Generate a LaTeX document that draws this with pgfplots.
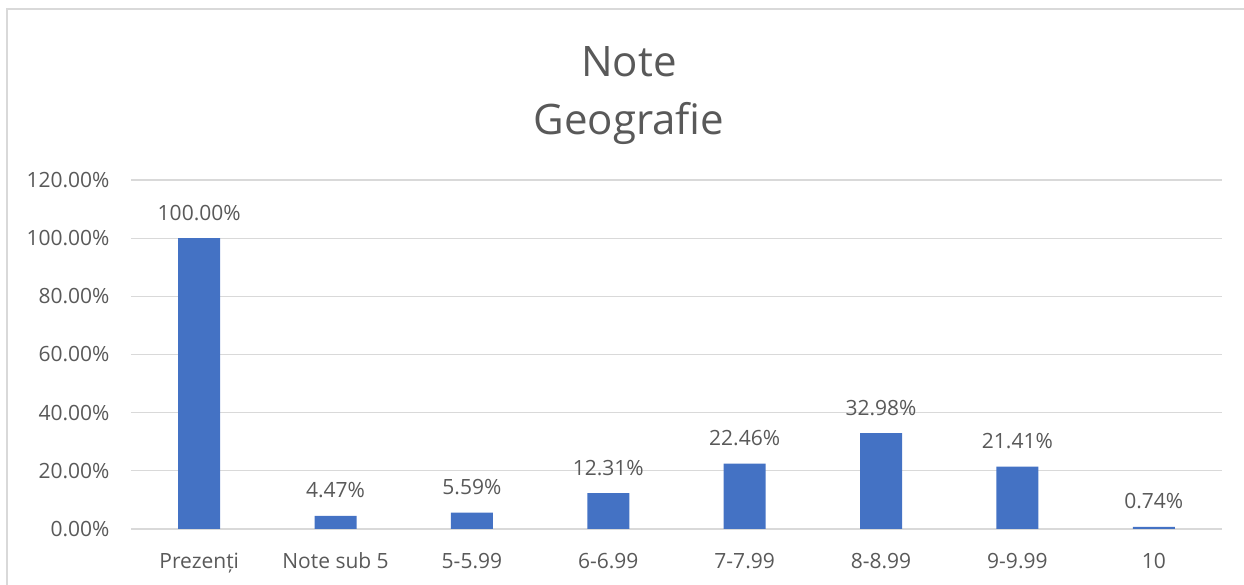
\documentclass[border=0pt]{standalone}
\usepackage{fontspec}
\setmainfont{Open Sans}
\usepackage{pgfplots}
\pgfplotsset{compat=1.18}
\definecolor{barblue}{HTML}{4472C4}
\definecolor{txtgray}{HTML}{595959}
\definecolor{gridgray}{HTML}{D9D9D9}
\begin{document}
\begin{tikzpicture}[x=1pt,y=1pt]
\useasboundingbox (0,0) rectangle (1244,585);
\draw[gridgray, line width=1.5pt] (7,-10) -- (7,576) -- (1260,576);
\node[anchor=base, text=txtgray, font=\fontsize{42}{50}\selectfont] at (629,508) {Note};
\node[anchor=base, text=txtgray, font=\fontsize{42}{50}\selectfont] at (629,450) {Geografie};
\begin{axis}[
  at={(131pt,56pt)}, anchor=south west,
  scale only axis, width=1091pt, height=349pt,
  ybar, bar width=42pt,
  xmin=-0.5, xmax=7.5, ymin=0, ymax=120,
  ytick={0,20,...,120},
  yticklabel={\pgfmathprintnumber[fixed,fixed zerofill,precision=2]{\tick}\%},
  /pgf/number format/assume math mode=true,
  xtick=data,
  xticklabels={Prezenți,Note sub 5,5-5.99,6-6.99,7-7.99,8-8.99,9-9.99,10},
  axis line style={draw=none},
  axis x line*=bottom,
  x axis line style={draw=gridgray, line width=1.2pt},
  tick style={draw=none},
  ymajorgrids, grid style={gridgray, line width=1.2pt},
  ticklabel style={text=txtgray, font=\fontsize{21}{25}\selectfont},
  yticklabel style={xshift=-18pt},
  xticklabel style={yshift=-16pt},
  nodes near coords={\pgfmathprintnumber[fixed,fixed zerofill,precision=2]{\pgfplotspointmeta}\%},
  nodes near coords style={text=txtgray, font=\fontsize{21}{25}\selectfont, anchor=base, yshift=18pt, inner sep=0pt},
  /pgf/number format/assume math mode=true,
]
\addplot[fill=barblue, draw=none] coordinates {
  (0,100.00) (1,4.47) (2,5.59) (3,12.31) (4,22.46) (5,32.98) (6,21.41) (7,0.74)
};
\end{axis}
\end{tikzpicture}
\end{document}
